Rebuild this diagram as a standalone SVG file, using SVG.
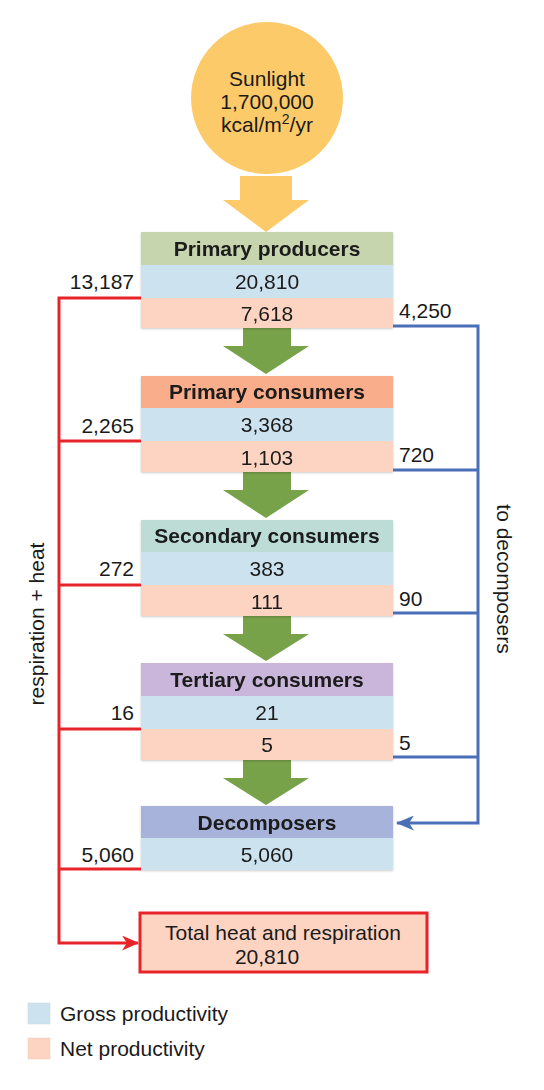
<svg xmlns="http://www.w3.org/2000/svg" width="544" height="1090" viewBox="0 0 544 1090">
<style>
text{font-family:"Liberation Sans",Arial,sans-serif;font-size:21px;fill:#1a1a1a}
.h{font-weight:bold;text-anchor:middle}
.c{text-anchor:middle}
.r{text-anchor:end}
.g{fill:#cce2ef}
.n{fill:#fdd4c2}
.red{stroke:#e8242b;stroke-width:3;fill:none}
.blue{stroke:#4a6fb7;stroke-width:3;fill:none}
.ga{fill:#77a24a}
</style>
<defs>
<marker id="ar" markerWidth="17" markerHeight="15" refX="16" refY="7.5" orient="auto" markerUnits="userSpaceOnUse" viewBox="0 0 17 15"><path d="M0,0 L17,7.5 L0,15 L5,7.5 Z" fill="#e8242b"/></marker>
<marker id="ab" markerWidth="18" markerHeight="15" refX="17" refY="7.5" orient="auto" markerUnits="userSpaceOnUse" viewBox="0 0 18 15"><path d="M0,0 L18,7.5 L0,15 L5,7.5 Z" fill="#4a6fb7"/></marker>
<filter id="sh" x="-5%" y="-5%" width="110%" height="115%"><feDropShadow dx="0" dy="1" stdDeviation="1" flood-opacity="0.2"/></filter>
</defs>
<g id="sun">
<circle cx="267" cy="98" r="76" fill="#fdca6a"/>
<text class="c" x="267" y="86">Sunlight</text>
<text class="c" x="267" y="109">1,700,000</text>
<text class="c" x="267" y="132">kcal/m<tspan font-size="14" dy="-8">2</tspan><tspan dy="8">/yr</tspan></text>
</g>
<g id="arrows">
<path d="M240,176 H292 V200 H309 L266,232 L223,200 H240 Z" fill="#fdca6a"/>
<path class="ga" d="M243,328 H291 V346 H309 L266,374 L223,346 H243 Z"/>
<path class="ga" d="M243,472 H291 V490 H309 L266,518 L223,490 H243 Z"/>
<path class="ga" d="M243,616 H291 V634 H309 L266,661 L223,634 H243 Z"/>
<path class="ga" d="M243,760 H291 V778 H309 L266,805 L223,778 H243 Z"/>
</g>
<g id="primary-producers" filter="url(#sh)">
<rect x="141" y="232" width="252" height="33" fill="#c6d5ae"/>
<rect class="g" x="141" y="265" width="252" height="33"/>
<rect class="n" x="141" y="298" width="252" height="30"/>
<text class="h" x="267" y="256">Primary producers</text>
<text class="c" x="267" y="289">20,810</text>
<text class="c" x="267" y="321">7,618</text>
</g>
<g id="primary-consumers" filter="url(#sh)">
<rect x="141" y="376" width="252" height="32" fill="#f9ad8a"/>
<rect class="g" x="141" y="408" width="252" height="33"/>
<rect class="n" x="141" y="441" width="252" height="31"/>
<text class="h" x="267" y="399">Primary consumers</text>
<text class="c" x="267" y="432">3,368</text>
<text class="c" x="267" y="465">1,103</text>
</g>
<g id="secondary-consumers" filter="url(#sh)">
<rect x="141" y="520" width="252" height="32" fill="#bddcd6"/>
<rect class="g" x="141" y="552" width="252" height="33"/>
<rect class="n" x="141" y="585" width="252" height="31"/>
<text class="h" x="267" y="543">Secondary consumers</text>
<text class="c" x="267" y="576">383</text>
<text class="c" x="267" y="609">111</text>
</g>
<g id="tertiary-consumers" filter="url(#sh)">
<rect x="141" y="663" width="252" height="33" fill="#c9b6da"/>
<rect class="g" x="141" y="696" width="252" height="33"/>
<rect class="n" x="141" y="729" width="252" height="31"/>
<text class="h" x="267" y="687">Tertiary consumers</text>
<text class="c" x="267" y="720">21</text>
<text class="c" x="267" y="752">5</text>
</g>
<g id="decomposers" filter="url(#sh)">
<rect x="141" y="806" width="252" height="32" fill="#a8b3db"/>
<rect class="g" x="141" y="838" width="252" height="32"/>
<text class="h" x="267" y="830">Decomposers</text>
<text class="c" x="267" y="862">5,060</text>
</g>
<g id="total">
<rect x="140" y="913" width="287" height="59" fill="#fdd4c2" stroke="#e8242b" stroke-width="3"/>
<text class="c" x="283" y="940">Total heat and respiration</text>
<text class="c" x="267" y="964">20,810</text>
</g>
<g id="connectors">
<path class="red" d="M141,298 H59 V943 H138" marker-end="url(#ar)"/>
<path class="red" d="M141,441 H59"/>
<path class="red" d="M141,585 H59"/>
<path class="red" d="M141,729 H59"/>
<path class="red" d="M141,869 H59"/>
<path class="blue" d="M393,326 H478 V823 H397" marker-end="url(#ab)"/>
<path class="blue" d="M393,470 H478"/>
<path class="blue" d="M393,613 H478"/>
<path class="blue" d="M393,757 H478"/>
</g>
<g id="labels">
<text class="r" x="134" y="289">13,187</text>
<text class="r" x="134" y="433">2,265</text>
<text class="r" x="134" y="576">272</text>
<text class="r" x="134" y="720">16</text>
<text class="r" x="134" y="862">5,060</text>
<text x="399" y="318">4,250</text>
<text x="399" y="462">720</text>
<text x="399" y="606">90</text>
<text x="399" y="750">5</text>
<text class="c" transform="translate(44,624) rotate(-90)">respiration + heat</text>
<text class="c" transform="translate(497,579) rotate(90)">to decomposers</text>
</g>
<g id="legend">
<rect class="g" x="28" y="1003" width="22" height="21" stroke="#c8d8e4" stroke-width="0.5"/>
<text x="60" y="1021">Gross productivity</text>
<rect class="n" x="28" y="1038" width="22" height="21" stroke="#f0c8b8" stroke-width="0.5"/>
<text x="60" y="1056">Net productivity</text>
</g>
</svg>
